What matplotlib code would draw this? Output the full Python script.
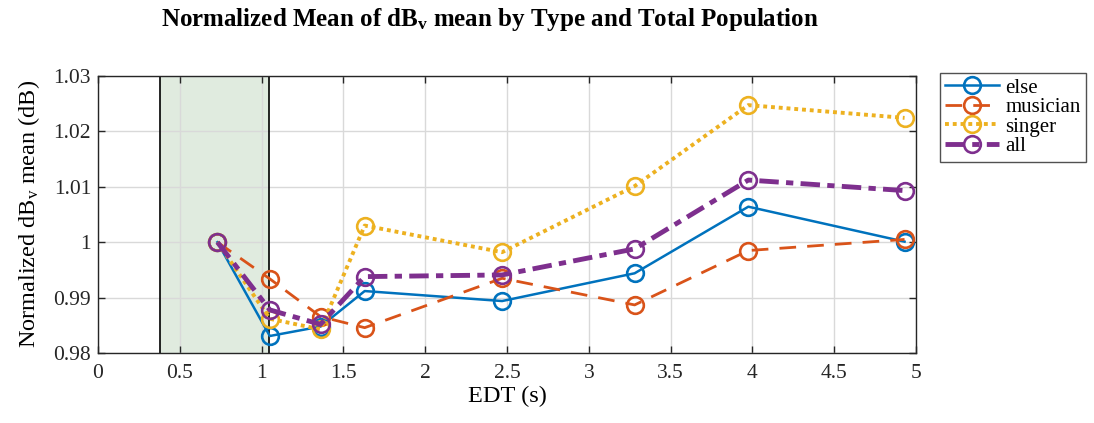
import matplotlib
matplotlib.use("Agg")
import matplotlib.pyplot as plt

edt = [0.73, 1.05, 1.36, 1.63, 2.47, 3.28, 3.975, 4.93]
else_vals = [1.0, 0.9831, 0.9848, 0.9912, 0.9894, 0.9944, 1.0064, 1.0001]
musician_vals = [1.0, 0.9934, 0.9866, 0.9846, 0.9935, 0.9887, 0.9985, 1.0005]
singer_vals = [1.0, 0.9862, 0.9843, 1.0030, 0.9982, 1.0101, 1.0247, 1.0224]
all_vals = [1.0, 0.9878, 0.9852, 0.9938, 0.9941, 0.9988, 1.0112, 1.0093]
shade_range = [0.38, 1.048]
xticks = [0, 0.5, 1, 1.5, 2, 2.5, 3, 3.5, 4, 4.5, 5]
xtick_labels = ["0", "0.5", "1", "1.5", "2", "2.5", "3", "3.5", "4", "4.5", "5"]
yticks = [0.98, 0.99, 1.0, 1.01, 1.02, 1.03]
ytick_labels = ["0.98", "0.99", "1", "1.01", "1.02", "1.03"]

plt.rcParams['font.family'] = ['Liberation Serif', 'DejaVu Serif']
plt.rcParams['mathtext.fontset'] = 'custom'
plt.rcParams['mathtext.rm'] = 'Liberation Serif'
plt.rcParams['mathtext.it'] = 'Liberation Serif'
plt.rcParams['mathtext.bf'] = 'Liberation Serif:bold'

fig = plt.figure(figsize=(10.94, 4.23), dpi=100)
ax = fig.add_axes([0.0896, 0.165, 0.7477, 0.656])

ax.axvspan(shade_range[0], shade_range[1], facecolor='#e0ebdf', edgecolor='none', zorder=0)
for xv in shade_range:
    ax.axvline(xv, color='black', lw=1.2, zorder=1)

colors = ['#0072BD', '#D95319', '#EDB120', '#7E2F8E']
series = [
    ('else', else_vals, '-', 1.8),
    ('musician', musician_vals, (0, (6, 4)), 2.0),
    ('singer', singer_vals, (0, (1, 1)), 2.8),
    ('all', all_vals, (0, (4, 1.5, 1.5, 1.5)), 3.5),
]
handles = []
for (name, vals, ls, lw), c in zip(series, colors):
    h, = ax.plot(edt, vals, linestyle=ls, lw=lw, color=c, marker='o', markersize=12,
                 markerfacecolor='none', markeredgecolor=c, markeredgewidth=1.9, label=name, zorder=3)
    handles.append(h)

ax.set_xlim(0, 5)
ax.set_ylim(0.98, 1.03)
ax.set_xticks(xticks)
ax.set_xticklabels(xtick_labels)
ax.set_yticks(yticks)
ax.set_yticklabels(ytick_labels)
ax.grid(True, color='#d9d9d9', lw=1.0, zorder=0)
ax.set_axisbelow(True)
ax.tick_params(direction='in', top=True, right=True, labelsize=15.5, length=5, width=1, colors='#262626')
ax.tick_params(axis='x', pad=8)
ax.tick_params(axis='y', pad=5)
for sp in ax.spines.values():
    sp.set_color('#262626')
    sp.set_linewidth(1.0)

ax.set_xlabel('EDT (s)', fontsize=17.5, labelpad=2)
ax.set_ylabel(r'Normalized dB$_{\mathrm{v}}$ mean (dB)', fontsize=17.5, labelpad=8)
fig.suptitle(r'Normalized Mean of dB$_{\mathbf{v}}$ mean by Type and Total Population',
             fontsize=18, fontweight='bold', y=0.985, x=0.448)

leg = fig.legend(handles=handles, loc='upper left', bbox_to_anchor=(0.859, 0.828),
                 fontsize=15, frameon=True, fancybox=False, edgecolor='#262626',
                 handlelength=2.6, borderpad=0.25, labelspacing=0.0, handletextpad=0.3,
                 borderaxespad=0)
leg.get_frame().set_linewidth(1.0)

fig.savefig('out.png', dpi=100)
